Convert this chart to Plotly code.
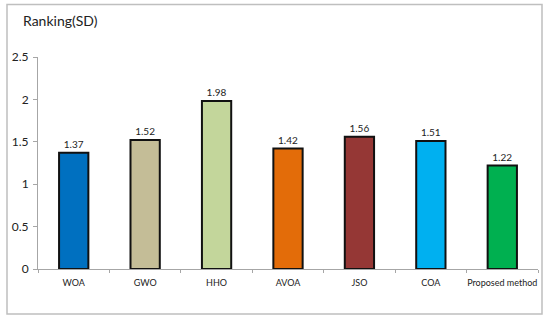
import plotly.graph_objects as go

categories = ["WOA", "GWO", "HHO", "AVOA", "JSO", "COA", "Proposed method"]
values = [1.37, 1.52, 1.98, 1.42, 1.56, 1.51, 1.22]
labels = ["1.37", "1.52", "1.98", "1.42", "1.56", "1.51", "1.22"]
colors = ["#0070C0", "#C4BD97", "#C3D69B", "#E36C09", "#953735", "#00B0F0", "#00B050"]
y_ticks = [0, 0.5, 1, 1.5, 2, 2.5]
y_ticktext = ["0", "0.5", "1", "1.5", "2", "2.5"]

W, H = 550, 321
L, R, T, B = 38, 12, 57, 52
pw, ph = W - L - R, H - T - B

def px2x(px):
    return (px - L) / pw

def py2y(py):
    return (H - B - py) / ph

fig = go.Figure()
fig.add_trace(go.Bar(
    x=categories, y=values,
    marker=dict(color=colors, line=dict(color="#111111", width=2)),
    width=0.41,
    text=labels, textposition="outside",
    textfont=dict(family="Lato, sans-serif", size=10, color="#222222"),
    cliponaxis=False,
))

fig.update_layout(
    width=W, height=H,
    margin=dict(l=L, r=R, t=T, b=B),
    paper_bgcolor="white", plot_bgcolor="white",
    showlegend=False,
    font=dict(family="Lato, sans-serif", color="#222222"),
    xaxis=dict(
        showline=True, linecolor="#A6A6A6", linewidth=1,
        ticks="outside", tickson="boundaries", ticklen=3, tickcolor="#A6A6A6",
        tickfont=dict(size=9, color="#222222"), tickangle=0,
        ticklabelstandoff=5,
        showgrid=False, automargin=False,
    ),
    yaxis=dict(
        range=[0, 2.5], tickvals=y_ticks, ticktext=y_ticktext,
        showline=True, linecolor="#A6A6A6", linewidth=1,
        ticks="outside", ticklen=4, tickcolor="#A6A6A6",
        tickfont=dict(size=12, color="#222222"),
        ticklabelstandoff=2,
        showgrid=False, zeroline=False, automargin=False,
    ),
    shapes=[dict(
        type="rect", xref="paper", yref="paper",
        x0=px2x(7), x1=px2x(542), y0=py2y(314), y1=py2y(4.5),
        line=dict(color="#BFBFBF", width=1.5), fillcolor="rgba(0,0,0,0)",
        layer="below",
    )],
    annotations=[dict(
        text="Ranking(SD)", xref="paper", yref="paper",
        x=px2x(21), y=py2y(20), xanchor="left", yanchor="middle",
        showarrow=False, font=dict(size=14, color="#222222"),
    )],
)

fig.write_html(
    "out.html",
    config={"displayModeBar": False},
    post_script="document.body.style.margin='0px';document.body.style.padding='0px';",
)
